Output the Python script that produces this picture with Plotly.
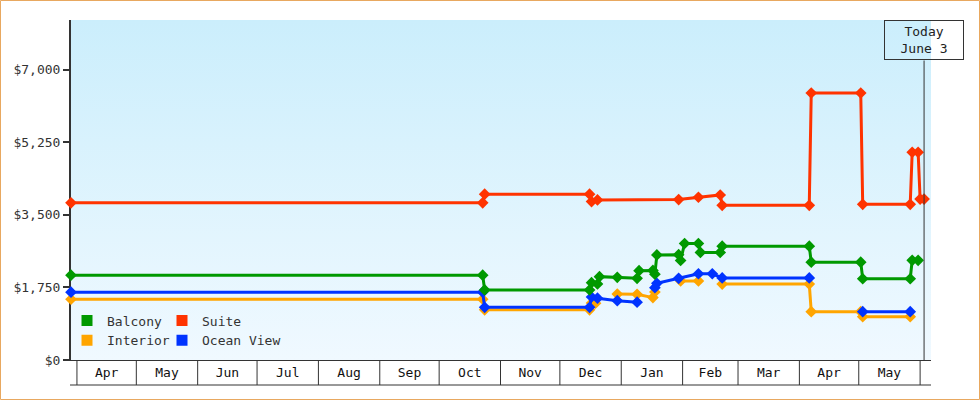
import plotly.graph_objects as go

# ---------------- data ----------------
X_START = '2022-03-29'
X_END = '2023-06-06 12:00'
Y_MAX = 8200
TODAY = '2023-06-03'
TODAY_LABEL = 'Today<br>June 3'

Y_TICKS = [0, 1750, 3500, 5250, 7000]
Y_TICK_LABELS = ['$0', '$1,750', '$3,500', '$5,250', '$7,000']
MONTH_STARTS = ['2022-04-01', '2022-05-01', '2022-06-01', '2022-07-01', '2022-08-01',
                '2022-09-01', '2022-10-01', '2022-11-01', '2022-12-01', '2023-01-01',
                '2023-02-01', '2023-03-01', '2023-04-01', '2023-05-01', '2023-06-01']

suite_dates = ['2022-03-29', '2022-10-23', '2022-10-24', '2022-12-16', '2022-12-17',
               '2022-12-20', '2023-01-30', '2023-02-09', '2023-02-20', '2023-02-21',
               '2023-04-06', '2023-04-07', '2023-05-02', '2023-05-03', '2023-05-27',
               '2023-05-28', '2023-05-31', '2023-06-01', '2023-06-03']
suite_prices = [3790, 3790, 4000, 4000, 3820,
                3860, 3870, 3925, 3980, 3730,
                3730, 6440, 6440, 3755, 3755,
                5010, 5010, 3880, 3880]

balcony_dates = ['2022-03-29', '2022-10-23', '2022-10-24', '2022-12-16', '2022-12-17',
                 '2022-12-20', '2022-12-21', '2022-12-30', '2023-01-09', '2023-01-10',
                 '2023-01-17', '2023-01-18', '2023-01-19', '2023-01-30', '2023-01-31',
                 '2023-02-02', '2023-02-09', '2023-02-10', '2023-02-20', '2023-02-21',
                 '2023-04-06', '2023-04-07', '2023-05-02', '2023-05-03', '2023-05-27',
                 '2023-05-28', '2023-05-31']
balcony_prices = [2045, 2045, 1690, 1690, 1865,
                  1835, 2010, 1995, 1970, 2155,
                  2160, 2070, 2535, 2540, 2400,
                  2810, 2810, 2595, 2595, 2745,
                  2745, 2360, 2360, 1960, 1960,
                  2405, 2405]

ocean_dates = ['2022-03-29', '2022-10-23', '2022-10-24', '2022-12-16', '2022-12-17',
               '2022-12-20', '2022-12-30', '2023-01-09', '2023-01-14', '2023-01-18',
               '2023-01-19', '2023-01-30', '2023-02-09', '2023-02-16', '2023-02-21',
               '2023-04-06', '2023-04-20', '2023-05-03', '2023-05-27']
ocean_prices = [1635, 1635, 1270, 1270, 1520,
                1490, 1430, 1395, None, 1745,
                1850, 1970, 2080, 2080, 1980,
                1980, None, 1165, 1165]

interior_dates = ['2022-03-29', '2022-10-23', '2022-10-24', '2022-12-16', '2022-12-17',
                  '2022-12-19', '2022-12-25', '2022-12-30', '2023-01-09', '2023-01-17',
                  '2023-01-18', '2023-01-24', '2023-01-31', '2023-02-09', '2023-02-15',
                  '2023-02-21', '2023-04-06', '2023-04-07', '2023-05-02', '2023-05-03',
                  '2023-05-27']
interior_prices = [1465, 1465, 1210, 1210, 1375,
                   1370, None, 1590, 1585, 1505,
                   1640, None, 1905, 1905, None,
                   1830, 1830, 1165, 1165, 1045,
                   1045]

# ---------------- styles ----------------
FONT = 'DejaVu Sans Mono'
COL = {'Balcony': '#009900', 'Suite': '#FF3300', 'Interior': '#FFA500', 'Ocean View': '#0033FF'}
AXIS_COL = '#333333'

fig = go.Figure()

# gradient plot background (spans the axis ranges)
fig.add_trace(go.Scatter(
    x=[X_START, X_END, X_END, X_START], y=[0, 0, Y_MAX, Y_MAX],
    fill='toself', mode='none', hoverinfo='skip', showlegend=False,
    fillgradient=dict(type='vertical', colorscale=[[0, '#F0F9FF'], [1, '#CBEEFC']]),
))

series = [
    ('Interior', interior_dates, interior_prices),
    ('Ocean View', ocean_dates, ocean_prices),
    ('Balcony', balcony_dates, balcony_prices),
    ('Suite', suite_dates, suite_prices),
]
for name, xs, ys in series:
    fig.add_trace(go.Scatter(
        x=xs, y=ys, name=name, mode='lines+markers', legendgroup=name,
        line=dict(color=COL[name], width=3),
        marker=dict(symbol='diamond', size=9, color=COL[name]),
        connectgaps=False, cliponaxis=False, showlegend=False,
    ))

# legend swatches (two columns)
legend_cols = [('legend', ['Balcony', 'Interior']), ('legend2', ['Suite', 'Ocean View'])]
for lg, names in legend_cols:
    for name in names:
        fig.add_trace(go.Scatter(
            x=[None], y=[None], name=name, mode='markers', legendgroup=name, legend=lg,
            marker=dict(symbol='square', size=11, color=COL[name]),
            showlegend=True,
        ))

shapes = []
box_bottom = -25 / 340
for m in MONTH_STARTS:
    shapes.append(dict(type='line', xref='x', yref='paper', x0=m, x1=m, y0=0, y1=box_bottom,
                       line=dict(color=AXIS_COL, width=1)))
shapes.append(dict(type='line', xref='paper', yref='paper', x0=-1 / 860, x1=1, y0=box_bottom, y1=box_bottom,
                   line=dict(color=AXIS_COL, width=1)))
# today line
shapes.append(dict(type='line', xref='x', yref='paper', x0=TODAY, x1=TODAY, y0=0, y1=(360 - 60.5) / 340,
                   line=dict(color=AXIS_COL, width=1)))
# outer orange frame
shapes.append(dict(type='rect', xref='paper', yref='paper',
                   x0=(0.5 - 71) / 860, x1=(979.5 - 71) / 860,
                   y0=(360 - 399.5) / 340, y1=(360 - 0.5) / 340,
                   line=dict(color='#E8A860', width=1), fillcolor='rgba(0,0,0,0)'))

legend_y = (360 - 305.5) / 340
fig.update_layout(
    width=980, height=400,
    margin=dict(l=71, r=49, t=20, b=40),
    paper_bgcolor='white', plot_bgcolor='rgba(0,0,0,0)',
    font=dict(family=FONT, size=13, color='#333333'),
    shapes=shapes,
    annotations=[dict(
        x=TODAY, xref='x', y=1, yref='paper', yanchor='top', xanchor='center',
        text=TODAY_LABEL, showarrow=False, align='center',
        font=dict(family=FONT, size=13, color='#222222'),
        bordercolor=AXIS_COL, borderwidth=1, borderpad=0,
        width=78, height=38, bgcolor='rgba(0,0,0,0)',
    )],
    xaxis=dict(
        type='date', range=[X_START, X_END],
        showgrid=False, zeroline=False,
        showline=True, linecolor=AXIS_COL, linewidth=1,
        ticks='', dtick='M1', tick0='2022-04-01', tickformat='%b',
        ticklabelmode='period', tickfont=dict(family=FONT, size=13, color='#111111'),
        layer='below traces',
    ),
    yaxis=dict(
        range=[0, Y_MAX], showgrid=False, zeroline=False,
        showline=True, linecolor=AXIS_COL, linewidth=2,
        ticks='outside', ticklen=6, tickwidth=2, tickcolor=AXIS_COL,
        tickmode='array', tickvals=Y_TICKS, ticktext=Y_TICK_LABELS,
        tickfont=dict(family=FONT, size=13, color='#333333'),
        layer='below traces',
    ),
    legend=dict(x=(67 - 71) / 860, xanchor='left', y=legend_y, yanchor='top',
                bgcolor='rgba(0,0,0,0)', borderwidth=0, tracegroupgap=0,
                font=dict(family=FONT, size=13, color='#333333')),
    legend2=dict(x=(162 - 71) / 860, xanchor='left', y=legend_y, yanchor='top',
                 bgcolor='rgba(0,0,0,0)', borderwidth=0, tracegroupgap=0,
                 font=dict(family=FONT, size=13, color='#333333')),
)

fig.write_html('out.html')
